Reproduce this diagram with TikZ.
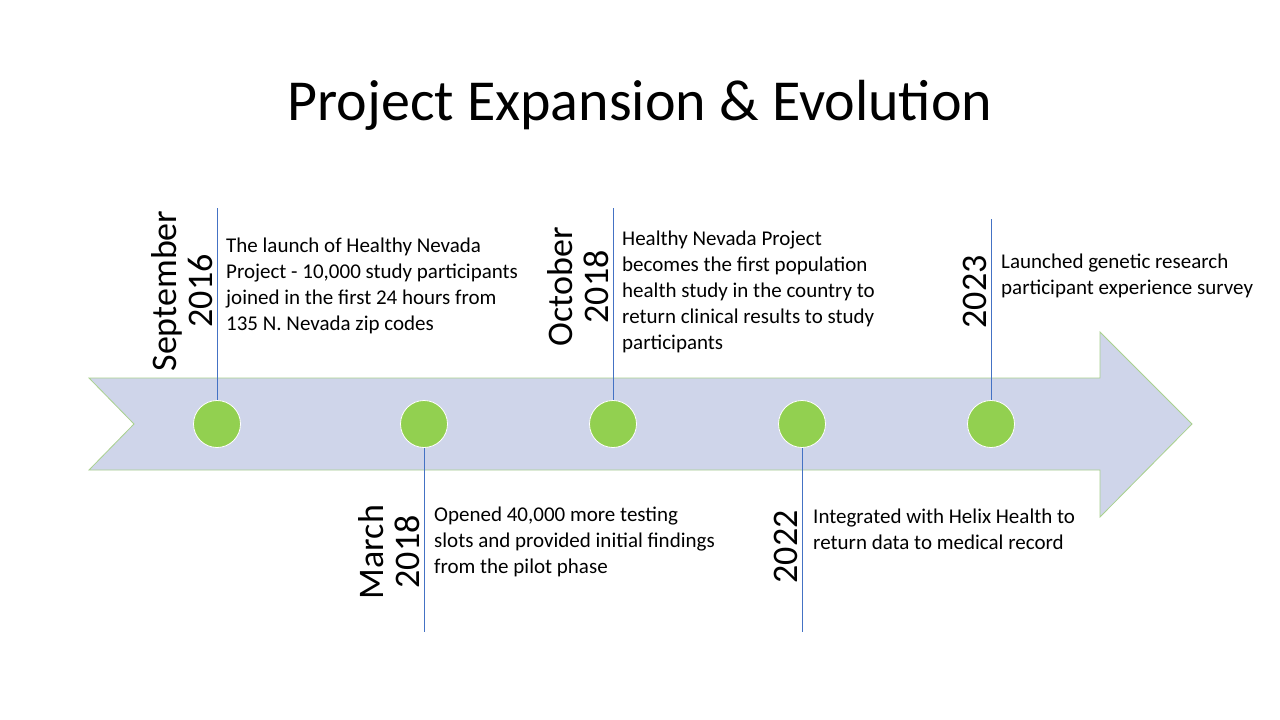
\documentclass[tikz,border=0pt]{standalone}
\usepackage{fontspec}
\setmainfont{Carlito}
\begin{document}
\begin{tikzpicture}[x=1pt,y=-1pt,
  dot/.style={circle,fill=dotgreen,draw=white,line width=0.8pt,minimum size=47pt,inner sep=0pt},
  tick/.style={draw=lineblue,line width=0.7pt},
  datelbl/.style={rotate=90,anchor=south,align=center,font=\fontsize{36}{36}\selectfont,inner sep=1pt},
  desc/.style={anchor=north west,align=left,font=\fontsize{21}{26}\selectfont,inner sep=0pt}]
\definecolor{dotgreen}{RGB}{146,208,80}
\definecolor{lineblue}{RGB}{68,114,196}
\definecolor{arrowfill}{RGB}{207,213,234}
\definecolor{arrowedge}{RGB}{169,209,142}
\useasboundingbox (0,0) rectangle (1280,720);
\fill[white] (0,0) rectangle (1280,720);
\node[font=\fontsize{58}{64}\selectfont] (title) at (640,105) {Project Expansion \& Evolution};
\draw[fill=arrowfill,draw=arrowedge,line width=0.8pt] (89,378) -- (1100,378) -- (1100,332) -- (1192,424) -- (1100,517) -- (1100,470) -- (89,470) -- (134,424) -- cycle;
\node[dot] (d1) at (217,424) {};
\node[dot] (d2) at (424,424) {};
\node[dot] (d3) at (613,424) {};
\node[dot] (d4) at (802,424) {};
\node[dot] (d5) at (991,424) {};
\coordinate (t1) at (217,208);
\coordinate (t2) at (424,632);
\coordinate (t3) at (613,208);
\coordinate (t4) at (802,632);
\coordinate (t5) at (991,219);
\draw[tick] (d1.north) -- (t1);
\draw[tick] (d2.south) -- (t2);
\draw[tick] (d3.north) -- (t3);
\draw[tick] (d4.south) -- (t4);
\draw[tick] (d5.north) -- (t5);
\node[datelbl] (y1) at (214,291) {September\\2016};
\node[datelbl] (y2) at (421,552) {March\\2018};
\node[datelbl] (y3) at (610,287) {October\\2018};
\node[datelbl] (y4) at (799,547) {2022};
\node[datelbl] (y5) at (988,292) {2023};
\node[desc] (x1) at (226,238) {The launch of Healthy Nevada\\Project - 10,000 study participants\\joined in the first 24 hours from\\135 N. Nevada zip codes};
\node[desc] (x2) at (434,507) {Opened 40,000 more testing\\slots and provided initial findings\\from the pilot phase};
\node[desc] (x3) at (622,231) {Healthy Nevada Project\\becomes the first population\\health study in the country to\\return clinical results to study\\participants};
\node[desc] (x4) at (813,509) {Integrated with Helix Health to\\return data to medical record};
\node[desc] (x5) at (1001,254) {Launched genetic research\\participant experience survey};
\end{tikzpicture}
\end{document}
